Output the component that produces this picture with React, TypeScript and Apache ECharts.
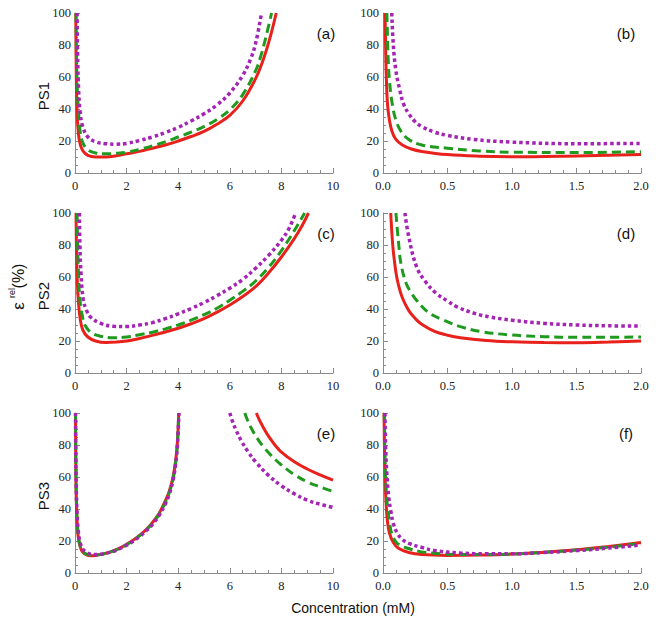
import React, { useEffect, useRef } from "react";
import * as echarts from "echarts";

// ---- data ([concentration mM, relative error %]) ----
const psA_red = [[0.03,100],[0.05,60],[0.08,38],[0.13,25],[0.2,18],[0.3,14],[0.5,11],[0.8,10],[1.2,10],[1.6,10.8],[2,12],[2.5,13.5],[3,15.5],[3.5,17.5],[4,20],[4.5,22.8],[5,26],[5.5,30.5],[6,36],[6.5,45],[7,59],[7.3,71],[7.55,84],[7.8,100]];
const psA_green = [[0.04,100],[0.06,70],[0.09,52],[0.13,40],[0.2,26],[0.3,19],[0.5,14.5],[0.8,12.5],[1.2,12],[1.6,12.3],[2,13],[2.5,14.8],[3,17],[3.5,19.5],[4,22.5],[4.5,25.5],[5,29],[5.5,33.5],[6,39.5],[6.5,49],[7,64],[7.2,73],[7.4,85],[7.62,100]];
const psA_purple = [[0.08,100],[0.1,75],[0.14,52],[0.2,38],[0.3,29],[0.5,22.5],[0.8,19.5],[1.2,18.3],[1.6,18],[2,18.5],[2.5,20.3],[3,22.5],[3.5,25.3],[4,28.5],[4.5,32.5],[5,37],[5.5,42.5],[6,50],[6.5,61],[6.8,71],[7,81],[7.23,100]];

const psB_red = [[0.016,100],[0.02,80],[0.025,62],[0.035,43],[0.05,33],[0.07,26],[0.1,21],[0.15,17.5],[0.22,15],[0.3,13.5],[0.5,11.5],[0.75,10.5],[1,10.2],[1.5,10.7],[2,11.5]];
const psB_green = [[0.03,100],[0.04,72],[0.05,58],[0.07,44],[0.1,33],[0.14,26],[0.2,21],[0.3,17.5],[0.5,15.5],[0.75,13.8],[1,13],[1.5,12.8],[2,13.3]];
const psB_purple = [[0.068,100],[0.08,80],[0.1,64],[0.13,52],[0.16,43],[0.2,37],[0.25,32],[0.3,29],[0.4,25.5],[0.5,23.5],[0.7,21],[1,19.3],[1.5,18.3],[2,18.5]];

const psC_red = [[0.04,100],[0.06,75],[0.09,57],[0.13,45],[0.2,34],[0.3,27],[0.5,22.5],[0.8,20],[1.2,19],[1.6,19.3],[2,20],[2.5,21.6],[3,23.5],[3.5,25.6],[4,28],[4.5,30.8],[5,34],[5.5,38],[6,42.5],[6.5,47.8],[7,54],[7.5,62.5],[8,72.5],[8.5,84],[8.8,92],[9.05,100]];
const psC_green = [[0.08,100],[0.1,80],[0.14,60],[0.19,46],[0.28,36],[0.4,29.5],[0.65,25],[1,23],[1.5,22],[2,22.5],[2.5,23.9],[3,25.5],[3.5,27.6],[4,30],[4.5,33],[5,36.5],[5.5,40.5],[6,45.5],[6.5,51],[7,57.5],[7.5,66],[8,76.5],[8.5,89],[8.9,100]];
const psC_purple = [[0.17,100],[0.19,80],[0.23,63],[0.32,46],[0.45,39],[0.6,35],[1,31],[1.5,29.2],[2,29],[2.5,30],[3,31.5],[3.5,34],[4,37],[4.5,40.3],[5,44],[5.5,48.3],[6,53],[6.5,58.5],[7,65.5],[7.5,73.5],[8,83],[8.3,90.5],[8.55,100]];

const psD_red = [[0.06,100],[0.07,86],[0.08,76],[0.1,63],[0.12,55],[0.15,47],[0.2,39],[0.25,34],[0.3,30.5],[0.4,26],[0.5,23.6],[0.6,22],[0.8,20.3],[1,19.5],[1.25,19],[1.5,18.9],[1.75,19.3],[2,20]];
const psD_green = [[0.1,100],[0.12,82],[0.14,68],[0.18,56],[0.22,50],[0.26,45.5],[0.35,38],[0.47,33],[0.6,29],[0.75,26],[1,23.7],[1.25,22.7],[1.5,22.3],[1.75,22.3],[2,22.5]];
const psD_purple = [[0.17,100],[0.2,85],[0.26,66.5],[0.33,57],[0.41,50],[0.5,45],[0.57,41.5],[0.7,37.5],[0.83,35],[1,33],[1.25,31],[1.5,30],[1.75,29.5],[2,29.3]];

const psE_redL = [[0.02,100],[0.04,55],[0.08,32],[0.13,22],[0.2,16.5],[0.3,13],[0.45,11.3],[0.6,10.8],[0.8,11],[1,11.6],[1.25,12.6],[1.5,14],[1.75,15.8],[2,18],[2.25,20.5],[2.5,23.5],[2.75,27],[3,31.5],[3.25,37],[3.5,45],[3.65,51],[3.8,60],[3.9,70],[3.97,82],[4.02,100]];
const psE_greenL = [[0.02,100],[0.04,57],[0.08,33],[0.13,23],[0.2,17],[0.3,13.5],[0.45,11.8],[0.6,11.2],[0.8,11.2],[1,11.6],[1.25,12.5],[1.5,13.8],[1.75,15.5],[2,17.7],[2.25,20.2],[2.5,23.2],[2.75,26.7],[3,31],[3.25,36.5],[3.5,44.2],[3.65,50],[3.8,59],[3.9,69],[3.97,81],[4.02,100]];
const psE_purpleL = [[0.02,100],[0.04,62],[0.08,37],[0.13,26],[0.2,19],[0.3,15],[0.45,12.8],[0.6,11.8],[0.8,11.5],[1,11.7],[1.25,12.4],[1.5,13.6],[1.75,15.3],[2,17.4],[2.25,19.8],[2.5,22.7],[2.75,26.2],[3,30.3],[3.25,35.8],[3.5,43.2],[3.65,49],[3.8,58],[3.9,68],[3.97,80],[4.03,100]];
const psE_redR = [[7.03,100],[7.15,95.5],[7.3,91],[7.5,85.5],[7.75,80],[8,75.5],[8.5,69.5],[9,65],[9.5,61.3],[10,58]];
const psE_greenR = [[6.58,100],[6.7,95],[6.85,90],[7.05,84.5],[7.3,79],[7.6,73.5],[8,67.5],[8.5,61.5],[9,57],[9.5,53.8],[10,51]];
const psE_purpleR = [[6.0,100],[6.1,95],[6.25,89],[6.45,82.5],[6.7,76],[7,69.5],[7.5,61],[8,54.5],[8.5,49.5],[9,45.5],[9.5,43],[10,41]];

const psF_red = [[0.008,100],[0.012,75],[0.017,58],[0.025,42],[0.035,32],[0.05,25],[0.08,19],[0.12,15.5],[0.2,12.8],[0.3,11.5],[0.5,11],[0.75,11.2],[1,11.8],[1.25,13],[1.5,14.5],[1.75,16.6],[2,19]];
const psF_green = [[0.01,100],[0.014,78],[0.02,60],[0.028,48],[0.036,40.6],[0.05,32],[0.068,24.5],[0.1,19.5],[0.14,17],[0.19,15.5],[0.28,13.5],[0.4,12.3],[0.6,11.5],[0.8,11.5],[1,11.8],[1.25,12.9],[1.5,14.3],[1.75,16.2],[2,18.5]];
const psF_purple = [[0.015,100],[0.02,80],[0.03,62],[0.045,47],[0.06,39],[0.08,31],[0.11,25],[0.15,21],[0.2,18.5],[0.3,16],[0.4,14],[0.6,12.5],[0.8,12],[1,12],[1.25,12.8],[1.5,14],[1.75,15.6],[2,17.5]];

const panelLabels = ["(a)", "(b)", "(c)", "(d)", "(e)", "(f)"];
const rowLabels = ["PS1", "PS2", "PS3"];
const xLabel = "Concentration (mM)";

const RED = "#e8211c";
const GREEN = "#1f9a1f";
const PURPLE = "#a424b4";

export default function App() {
  const ref = useRef<HTMLDivElement>(null);
  useEffect(() => {
    document.body.style.margin = "0";
    const chart = echarts.init(ref.current!, null, { renderer: "svg" });
    const rowsTop = [13, 213, 413];
    const grids: any[] = [];
    const xAxes: any[] = [];
    const yAxes: any[] = [];
    const axisColor = "#8a8a8a";
    const labelFont = { fontFamily: "'Liberation Serif', 'Times New Roman', serif", fontSize: 12.5, color: "#222" };
    rowsTop.forEach((top) => {
      [0, 1].forEach((col) => {
        grids.push({ left: col === 0 ? 75 : 383, top, width: 258, height: 160 });
        const idx = grids.length - 1;
        xAxes.push({
          type: "value",
          gridIndex: idx,
          min: 0,
          max: col === 0 ? 10 : 2,
          interval: col === 0 ? 2 : 0.5,
          axisLine: { show: true, onZero: false, lineStyle: { color: axisColor, width: 1 } },
          axisTick: { show: true, inside: true, length: 5, lineStyle: { color: axisColor } },
          minorTick: { show: true, splitNumber: col === 0 ? 4 : 5, length: 3, lineStyle: { color: axisColor } },
          splitLine: { show: false },
          axisLabel: {
            ...labelFont,
            margin: 6,
            formatter: (v: number) => (col === 0 ? String(v) : v.toFixed(1)),
          },
        });
        yAxes.push({
          type: "value",
          gridIndex: idx,
          min: 0,
          max: 100,
          interval: 20,
          axisLine: { show: true, onZero: false, lineStyle: { color: axisColor, width: 1 } },
          axisTick: { show: true, inside: true, length: 5, lineStyle: { color: axisColor } },
          minorTick: { show: true, splitNumber: 4, length: 3, lineStyle: { color: axisColor } },
          splitLine: { show: false },
          axisLabel: { ...labelFont, margin: 4 },
        });
      });
    });

    const styles: Record<string, any> = {
      red: { color: RED, width: 3, type: "solid" },
      green: { color: GREEN, width: 3, type: [9, 5] },
      purple: { color: PURPLE, width: 3.5, type: [3.5, 3] },
    };
    const mk = (data: number[][], kind: string, idx: number) => ({
      type: "line",
      xAxisIndex: idx,
      yAxisIndex: idx,
      data,
      showSymbol: false,
      symbol: "none",
      smooth: 0.4,
      clip: true,
      silent: true,
      lineStyle: styles[kind],
    });
    const series = [
      mk(psA_red, "red", 0), mk(psA_green, "green", 0), mk(psA_purple, "purple", 0),
      mk(psB_red, "red", 1), mk(psB_green, "green", 1), mk(psB_purple, "purple", 1),
      mk(psC_red, "red", 2), mk(psC_green, "green", 2), mk(psC_purple, "purple", 2),
      mk(psD_red, "red", 3), mk(psD_green, "green", 3), mk(psD_purple, "purple", 3),
      mk(psE_redL, "red", 4), mk(psE_greenL, "green", 4), mk(psE_purpleL, "purple", 4),
      mk(psE_redR, "red", 4), mk(psE_greenR, "green", 4), mk(psE_purpleR, "purple", 4),
      mk(psF_red, "red", 5), mk(psF_green, "green", 5), mk(psF_purple, "purple", 5),
    ];

    const sans = "'Liberation Sans', Arial, sans-serif";
    const graphics: any[] = [];
    panelLabels.forEach((t, i) => {
      const row = Math.floor(i / 2);
      const col = i % 2;
      graphics.push({
        type: "text",
        x: col === 0 ? 326 : 626,
        y: 33 + row * 200,
        style: { text: t, font: `15px ${sans}`, fill: "#111", textAlign: "center", textVerticalAlign: "middle" },
      });
    });
    rowLabels.forEach((t, r) => {
      graphics.push({
        type: "text",
        x: 43,
        y: 96 + r * 200,
        rotation: Math.PI / 2,
        style: { text: t, font: `15px ${sans}`, fill: "#111", textAlign: "center", textVerticalAlign: "middle" },
      });
    });
    graphics.push(
      { type: "text", x: 18, y: 306, rotation: Math.PI / 2,
        style: { text: "ε", font: `17px ${sans}`, fill: "#111", textAlign: "center", textVerticalAlign: "middle" } },
      { type: "text", x: 12, y: 293, rotation: Math.PI / 2,
        style: { text: "rel", font: `9px ${sans}`, fill: "#111", textAlign: "center", textVerticalAlign: "middle" } },
      { type: "text", x: 18, y: 276, rotation: Math.PI / 2,
        style: { text: "(%)", font: `16px ${sans}`, fill: "#111", textAlign: "center", textVerticalAlign: "middle" } },
      { type: "text", x: 353, y: 608,
        style: { text: xLabel, font: `14px ${sans}`, fill: "#111", textAlign: "center", textVerticalAlign: "middle" } }
    );

    chart.setOption({
      animation: false,
      backgroundColor: "#ffffff",
      grid: grids,
      xAxis: xAxes,
      yAxis: yAxes,
      series,
      graphic: graphics,
    });
    return () => chart.dispose();
  }, []);
  return <div ref={ref} style={{ width: 656, height: 625 }} />;
}
